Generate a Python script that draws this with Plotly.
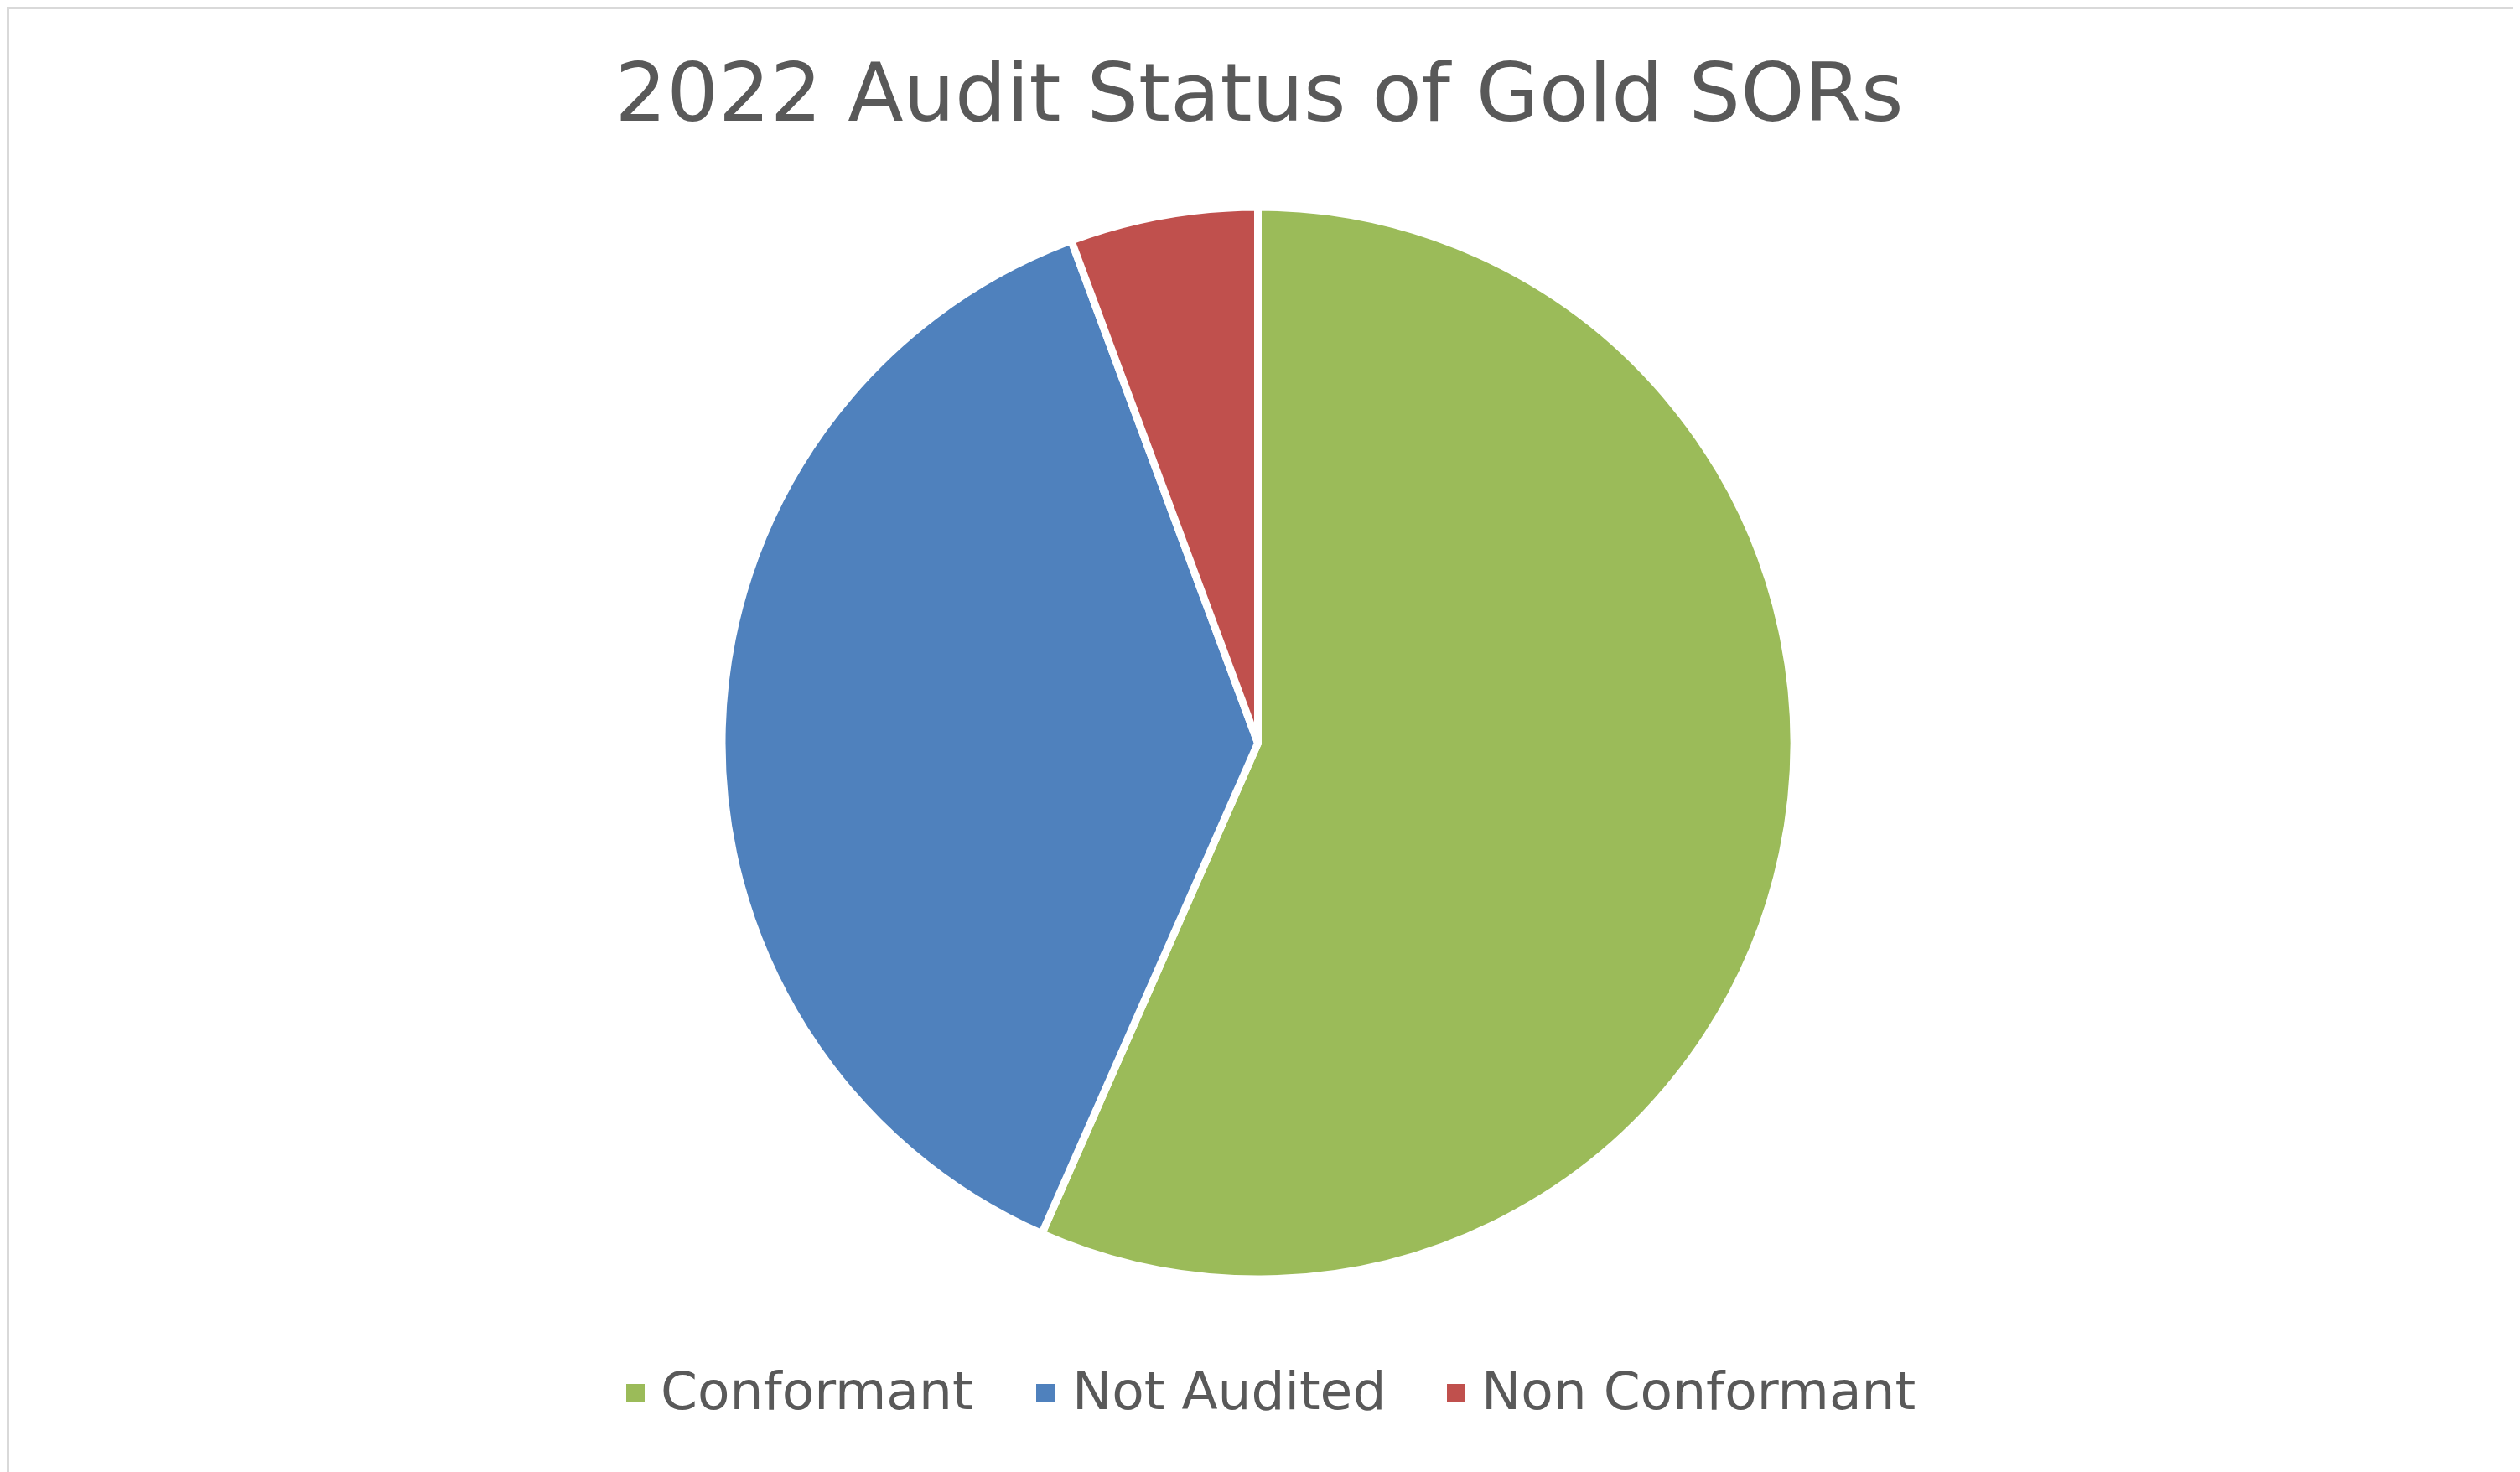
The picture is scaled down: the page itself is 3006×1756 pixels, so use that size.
import plotly.graph_objects as go

categories = ["Conformant", "Not Audited", "Non Conformant"]
values = [30, 20, 3]
colors = ["#9BBB59", "#4F81BD", "#C0504D"]
title_text = "2022 Audit Status of Gold SORs"

W, H = 3006, 1756

fig = go.Figure(go.Pie(
    labels=categories,
    values=values,
    marker=dict(colors=colors, line=dict(color="white", width=9)),
    sort=False,
    direction="clockwise",
    rotation=0,
    textinfo="none",
    hoverinfo="label+value+percent",
    showlegend=False,
    domain=dict(x=[853 / W, 2132 / W], y=[1 - 1519 / H, 1 - 238 / H]),
))

# custom legend (layout positions in pixels)
legend_marker_x = [750, 1239, 1729]
legend_text_x = [778, 1269, 1757]
legend_y = 1651
msz = 22
shapes = [dict(type="rect", xref="paper", yref="paper",
               x0=1.5 / W, x1=3001.5 / W, y0=1 - 1751.5 / H, y1=1 - 1.5 / H,
               line=dict(color="#D9D9D9", width=3), fillcolor="rgba(0,0,0,0)")]
annotations = []
for cat, col, mx, tx in zip(categories, colors, legend_marker_x, legend_text_x):
    shapes.append(dict(type="rect", xref="paper", yref="paper",
                       x0=(mx - msz / 2) / W, x1=(mx + msz / 2) / W,
                       y0=1 - (legend_y + 3 + msz / 2) / H, y1=1 - (legend_y + 3 - msz / 2) / H,
                       line=dict(width=0), fillcolor=col))
    annotations.append(dict(text=cat, xref="paper", yref="paper", x=tx / W, y=1 - legend_y / H,
                            xanchor="left", yanchor="middle", showarrow=False,
                            font=dict(size=63, color="#595959", family="DejaVu Sans")))

fig.update_layout(
    width=W, height=H,
    margin=dict(l=0, r=0, t=0, b=0),
    paper_bgcolor="white",
    font=dict(family="DejaVu Sans", color="#595959"),
    title=dict(text=title_text, x=0.5 - 9 / W, xanchor="center", y=1 - 102 / H, yanchor="middle",
               font=dict(size=97, color="#595959", family="DejaVu Sans")),
    shapes=shapes,
    annotations=annotations,
)

fig.write_html("out.html")
